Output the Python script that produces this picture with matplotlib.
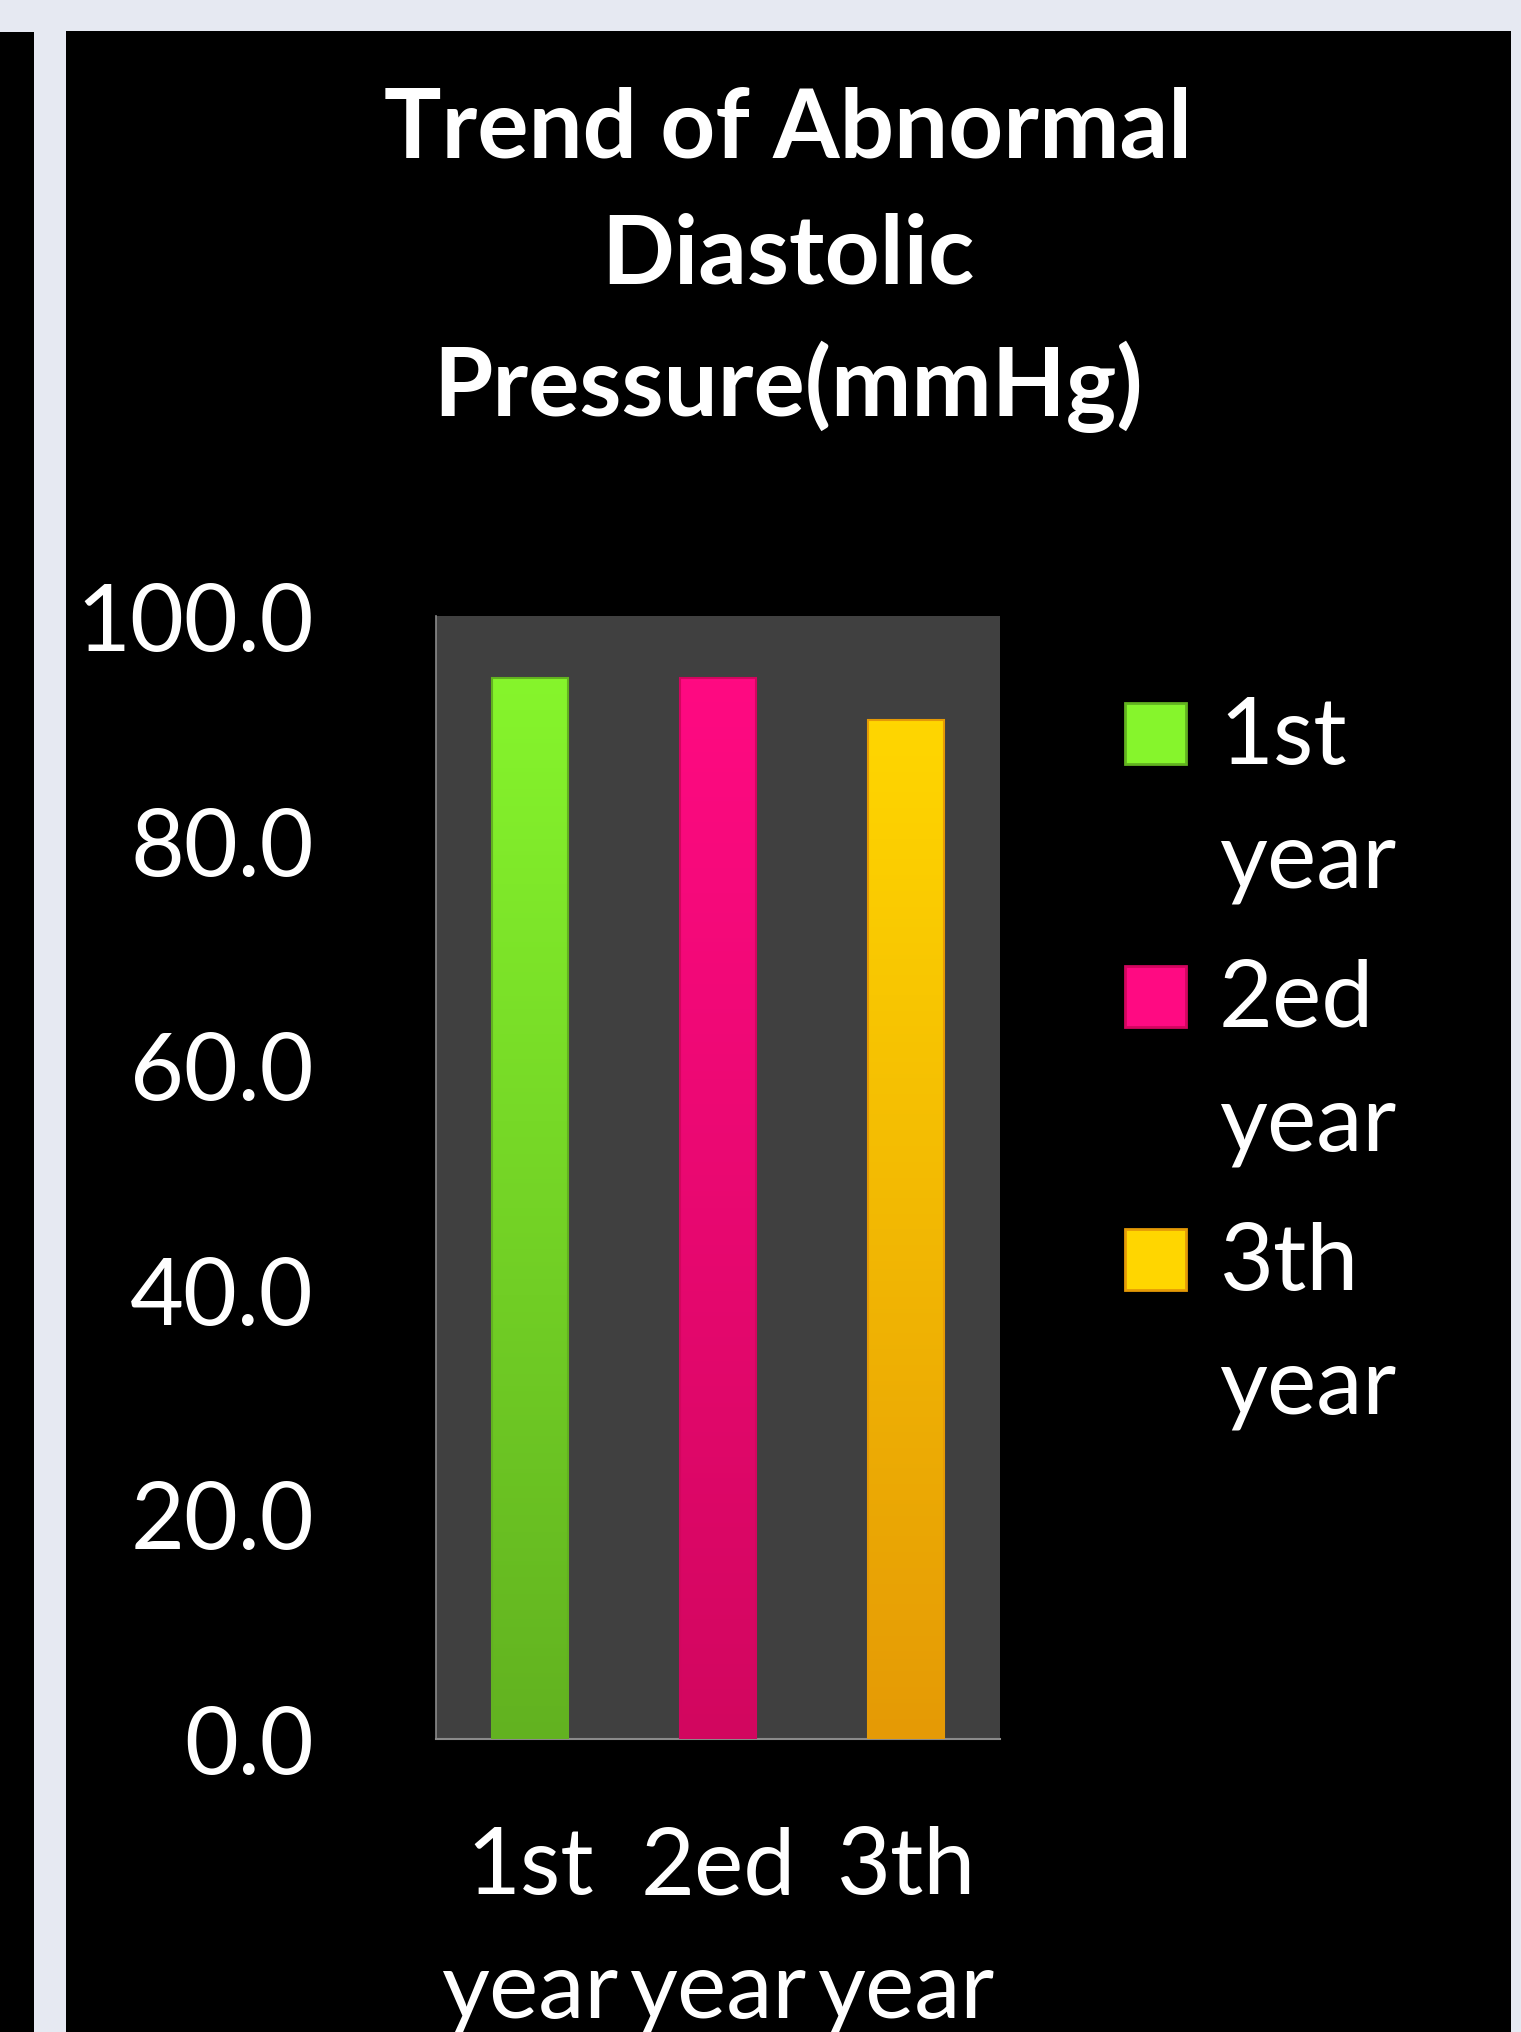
import numpy as np
import matplotlib.pyplot as plt
from matplotlib.colors import to_rgb
from matplotlib.patches import Rectangle

# data
categories = ['1st\nyear', '2ed\nyear', '3th\nyear']
values = [94.5, 94.5, 90.7]
top_colors = ['#86F52C', '#FF0A82', '#FFD600']
bottom_colors = ['#62B220', '#D2065F', '#E59A06']
yticks = [0, 20, 40, 60, 80, 100]

plt.rcParams['font.family'] = ['Lato', 'DejaVu Sans']

fig = plt.figure(figsize=(15.21, 20.33), dpi=100)
fig.patch.set_facecolor('#E6E9F2')

# black slide panels behind the chart
fig.patches.append(Rectangle((0, 0), 0.0224, 0.9838, transform=fig.transFigure,
                             facecolor='black', zorder=-10))
fig.patches.append(Rectangle((0.0434, 0), 0.95, 0.9843, transform=fig.transFigure,
                             facecolor='black', zorder=-10))

ax = fig.add_axes([0.2867, 0.1441, 0.3708, 0.5524])
ax.set_zorder(1)
ax.set_facecolor('#404040')

x = np.arange(len(categories))
bars = ax.bar(x, values, width=0.4, color=top_colors, edgecolor='none', zorder=2)

# vertical gradient inside each bar
for b, c0, c1 in zip(bars, top_colors, bottom_colors):
    r0 = np.array(to_rgb(c0))
    r1 = np.array(to_rgb(c1))
    t = np.linspace(0, 1, 256)[:, None]
    grad = (r0 * (1 - t) + r1 * t)[:, None, :]
    x0, w, h = b.get_x(), b.get_width(), b.get_height()
    im = ax.imshow(grad, extent=[x0, x0 + w, 0, h], aspect='auto', zorder=3,
                   origin='upper')
    im.set_clip_path(b)
    ax.add_patch(Rectangle((x0, 0), w, h, facecolor='none',
                           edgecolor=c1, linewidth=1.5, zorder=4))

ax.set_xlim(-0.5, 2.5)
ax.set_ylim(0, 100)
ax.set_yticks(yticks)
ax.set_yticklabels(['%.1f' % v for v in yticks])
ax.set_xticks(x)
ax.set_xticklabels(categories, linespacing=1.58)
ax.tick_params(axis='y', length=0, pad=88, labelsize=67, labelcolor='white')
ax.tick_params(axis='x', length=0, pad=62, labelsize=67, labelcolor='white')
for s in ['top', 'right']:
    ax.spines[s].set_visible(False)
ax.spines['left'].set_color('#8a8a8a')
ax.spines['bottom'].set_color('#8a8a8a')
ax.spines['left'].set_linewidth(1.2)
ax.spines['bottom'].set_linewidth(1.5)

fig.text(0.518, 0.8722, 'Trend of Abnormal\nDiastolic\nPressure(mmHg)',
         ha='center', va='center', color='white', fontsize=69,
         fontweight='bold', linespacing=1.55)

# legend drawn by hand so the swatch sits on the first line
leg_labels = ['1st\nyear', '2ed\nyear', '3th\nyear']
for i, (lab, c0, c1) in enumerate(zip(leg_labels, top_colors, bottom_colors)):
    yc = 1 - (735 + i * 263) / 2033
    fig.patches.append(Rectangle((1125 / 1521, yc - 30 / 2033), 61 / 1521, 61 / 2033,
                                 transform=fig.transFigure, facecolor=c0,
                                 edgecolor=c1, linewidth=2, zorder=5))
    fig.text(1219 / 1521, yc + 39 / 2033, lab, ha='left', va='top', color='white',
             fontsize=67, linespacing=1.58)

fig.savefig('out.png', dpi=100, facecolor=fig.get_facecolor())
